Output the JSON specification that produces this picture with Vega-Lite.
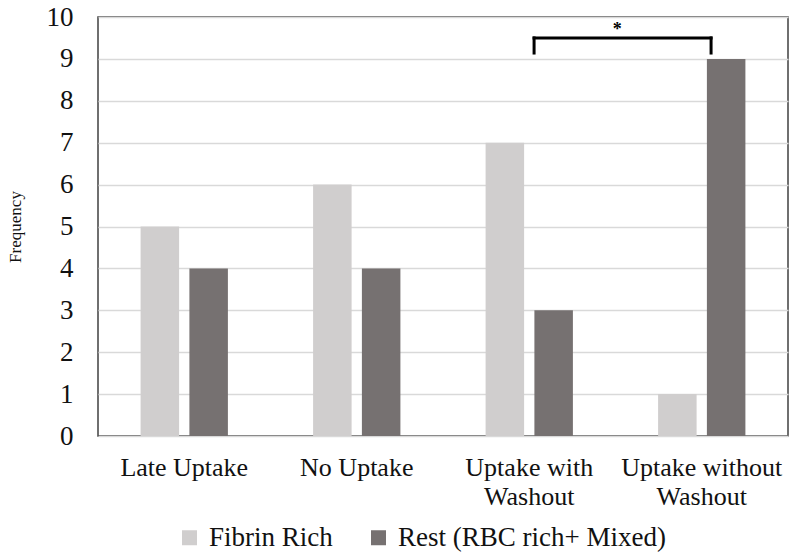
{
  "$schema": "https://vega.github.io/schema/vega-lite/v6.json",
  "width": 690,
  "height": 419,
  "autosize": "none",
  "padding": {"left": 98, "top": 17, "right": 10, "bottom": 124},
  "background": "white",
  "config": {
    "font": "Liberation Serif",
    "view": {"stroke": "#404040", "strokeWidth": 1.5}
  },
  "layer": [
    {
      "data": {
        "values": [
          {"category": "Late Uptake", "group": "Fibrin Rich", "frequency": 5},
          {"category": "Late Uptake", "group": "Rest (RBC rich+ Mixed)", "frequency": 4},
          {"category": "No Uptake", "group": "Fibrin Rich", "frequency": 6},
          {"category": "No Uptake", "group": "Rest (RBC rich+ Mixed)", "frequency": 4},
          {"category": "Uptake with Washout", "group": "Fibrin Rich", "frequency": 7},
          {"category": "Uptake with Washout", "group": "Rest (RBC rich+ Mixed)", "frequency": 3},
          {"category": "Uptake without Washout", "group": "Fibrin Rich", "frequency": 1},
          {"category": "Uptake without Washout", "group": "Rest (RBC rich+ Mixed)", "frequency": 9}
        ]
      },
      "mark": {"type": "bar"},
      "encoding": {
        "x": {
          "field": "category",
          "type": "nominal",
          "sort": null,
          "scale": {"paddingInner": 0, "paddingOuter": 0},
          "axis": {
            "title": null,
            "labelAngle": 0,
            "labelFontSize": 26,
            "labelColor": "#111111",
            "labelPadding": 18,
            "labelBaseline": "top",
            "labelLineHeight": 29,
            "labelLimit": 300,
            "ticks": false,
            "domain": false,
            "labelExpr": "datum.value == 'Uptake with Washout' ? ['Uptake with', 'Washout'] : datum.value == 'Uptake without Washout' ? ['Uptake without', 'Washout'] : datum.value"
          }
        },
        "xOffset": {
          "field": "group",
          "type": "nominal",
          "scale": {"paddingInner": 0.211, "paddingOuter": 0.873}
        },
        "y": {
          "field": "frequency",
          "type": "quantitative",
          "scale": {"domain": [0, 10], "nice": false},
          "axis": {
            "title": "Frequency",
            "titleFontSize": 17,
            "titleFontWeight": "normal",
            "titleColor": "#111111",
            "titlePadding": 22,
            "values": [0, 1, 2, 3, 4, 5, 6, 7, 8, 9, 10],
            "labelOverlap": false,
            "labelFontSize": 27,
            "labelColor": "#111111",
            "labelPadding": 25,
            "ticks": false,
            "domain": false,
            "grid": true,
            "gridColor": "#d9d9d9",
            "gridWidth": 1.5
          }
        },
        "color": {
          "field": "group",
          "type": "nominal",
          "scale": {"range": ["#d0cece", "#767171"]},
          "legend": {
            "title": null,
            "orient": "none",
            "direction": "horizontal",
            "legendX": 78,
            "legendY": 507,
            "symbolType": "square",
            "symbolSize": 225,
            "symbolStrokeWidth": 0,
            "labelFontSize": 27,
            "labelLimit": 400,
            "labelColor": "#111111",
            "labelOffset": 6,
            "columnPadding": 32
          }
        }
      }
    },
    {
      "data": {
        "values": [
          {"x1": 2.528, "x2": 3.554, "y1": 9.5, "y2": 9.5},
          {"x1": 2.528, "x2": 2.528, "y1": 9.14, "y2": 9.5},
          {"x1": 3.554, "x2": 3.554, "y1": 9.14, "y2": 9.5}
        ]
      },
      "mark": {"type": "rule", "color": "black", "strokeWidth": 3, "strokeCap": "square"},
      "encoding": {
        "x": {"field": "x1", "type": "quantitative", "scale": {"domain": [0, 4], "nice": false, "zero": false}, "axis": null},
        "x2": {"field": "x2"},
        "y": {"field": "y1", "type": "quantitative"},
        "y2": {"field": "y2"}
      }
    },
    {
      "data": {"values": [{"x": 3.01, "y": 9.68, "label": "*"}]},
      "mark": {"type": "text", "fontSize": 18, "fontWeight": "bold", "baseline": "middle", "color": "black"},
      "encoding": {
        "x": {"field": "x", "type": "quantitative", "scale": {"domain": [0, 4], "nice": false, "zero": false}, "axis": null},
        "y": {"field": "y", "type": "quantitative"},
        "text": {"field": "label"}
      }
    }
  ],
  "resolve": {"scale": {"x": "independent"}}
}
